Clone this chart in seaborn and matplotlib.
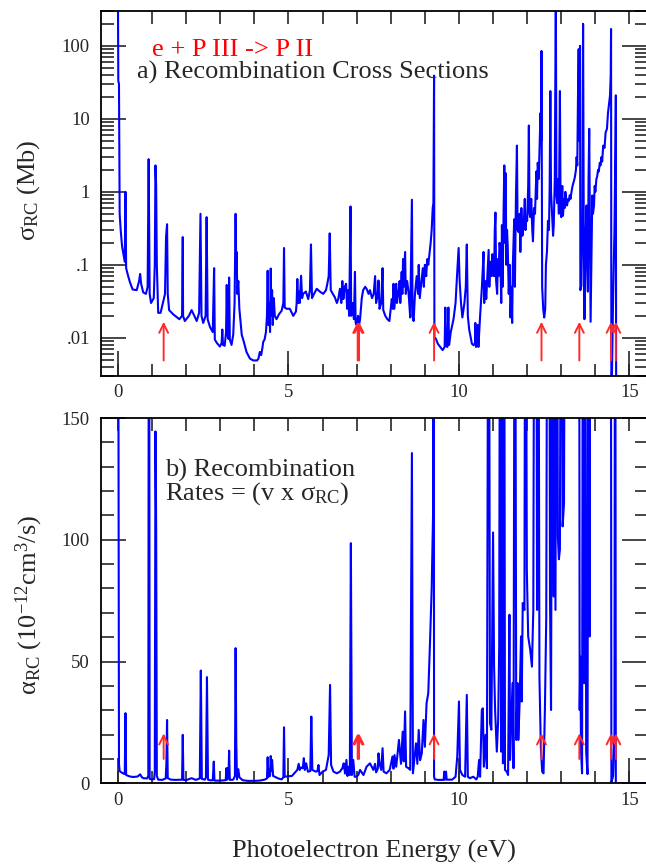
import matplotlib
matplotlib.use('Agg')
import matplotlib.pyplot as plt
import matplotlib.ticker as mticker
import seaborn as sns

# panel a) photoelectron energy (eV) and recombination cross section (Mb)
energia_a = [
    0.00, 0.01, 0.03, 0.05, 0.08, 0.12, 0.16, 0.20, 0.22, 0.24,
    0.30, 0.35, 0.43, 0.55, 0.62, 0.65, 0.68, 0.74, 0.82, 0.87,
    0.90, 0.93, 0.97, 1.05, 1.08, 1.10, 1.12, 1.14, 1.18, 1.25,
    1.38, 1.41, 1.44, 1.46, 1.50, 1.62, 1.80, 1.88, 1.90, 1.91,
    1.96, 2.08, 2.16, 2.24, 2.31, 2.38, 2.42, 2.45, 2.50, 2.57,
    2.60, 2.63, 2.70, 2.78, 2.82, 2.84, 2.90, 2.99, 3.04, 3.06,
    3.08, 3.13, 3.17, 3.19, 3.21, 3.24, 3.26, 3.28, 3.33, 3.38,
    3.42, 3.45, 3.47, 3.48, 3.50, 3.53, 3.56, 3.63, 3.68, 3.77,
    3.87, 3.97, 4.08, 4.12, 4.16, 4.20, 4.24, 4.26, 4.30, 4.34,
    4.37, 4.39, 4.41, 4.44, 4.46, 4.48, 4.50, 4.52, 4.54, 4.57,
    4.60, 4.65, 4.72, 4.80, 4.85, 4.87, 4.89, 4.95, 5.04, 5.14,
    5.22, 5.24, 5.26, 5.28, 5.30, 5.33, 5.37, 5.40, 5.43, 5.51,
    5.58, 5.63, 5.66, 5.69, 5.75, 5.83, 5.92, 6.02, 6.10, 6.14,
    6.18, 6.21, 6.24, 6.30, 6.36, 6.42, 6.46, 6.51, 6.55, 6.58,
    6.61, 6.65, 6.69, 6.72, 6.75, 6.78, 6.82, 6.84, 6.88, 6.92,
    6.95, 6.97, 7.00, 7.04, 7.07, 7.10, 7.15, 7.19, 7.25, 7.29,
    7.35, 7.39, 7.45, 7.50, 7.54, 7.57, 7.62, 7.64, 7.67, 7.72,
    7.76, 7.78, 7.84, 7.90, 7.96, 8.00, 8.03, 8.06, 8.08, 8.10,
    8.14, 8.16, 8.18, 8.22, 8.26, 8.28, 8.32, 8.34, 8.36, 8.38,
    8.42, 8.44, 8.48, 8.52, 8.57, 8.62, 8.64, 8.67, 8.71, 8.76,
    8.80, 8.82, 8.85, 8.90, 8.94, 8.97, 9.00, 9.04, 9.07, 9.10,
    9.14, 9.17, 9.20, 9.23, 9.25, 9.27, 9.28, 9.32, 9.38, 9.45,
    9.52, 9.58, 9.60, 9.62, 9.66, 9.69, 9.71, 9.76, 9.84, 9.90,
    9.94, 9.99, 10.02, 10.06, 10.10, 10.16, 10.20, 10.23, 10.26, 10.30,
    10.38, 10.43, 10.47, 10.48, 10.50, 10.55, 10.57, 10.62, 10.67, 10.70,
    10.72, 10.74, 10.77, 10.80, 10.84, 10.87, 10.89, 10.92, 10.96, 10.98,
    11.00, 11.03, 11.05, 11.07, 11.09, 11.12, 11.14, 11.16, 11.19, 11.21,
    11.24, 11.26, 11.28, 11.31, 11.33, 11.35, 11.37, 11.39, 11.41, 11.43,
    11.46, 11.49, 11.51, 11.54, 11.56, 11.58, 11.60, 11.62, 11.64, 11.67,
    11.70, 11.72, 11.75, 11.78, 11.80, 11.83, 11.86, 11.90, 11.93, 11.95,
    11.98, 12.00, 12.03, 12.05, 12.07, 12.09, 12.12, 12.15, 12.17, 12.20,
    12.23, 12.27, 12.29, 12.31, 12.34, 12.36, 12.39, 12.41, 12.42, 12.44,
    12.47, 12.50, 12.53, 12.55, 12.58, 12.61, 12.64, 12.66, 12.68, 12.70,
    12.73, 12.76, 12.78, 12.81, 12.84, 12.86, 12.88, 12.91, 12.93, 12.96,
    12.98, 13.00, 13.03, 13.05, 13.08, 13.10, 13.12, 13.15, 13.17, 13.20,
    13.22, 13.25, 13.27, 13.30, 13.33, 13.37, 13.40, 13.43, 13.45, 13.47,
    13.49, 13.51, 13.53, 13.55, 13.56, 13.59, 13.62, 13.64, 13.66, 13.68,
    13.71, 13.74, 13.76, 13.78, 13.80, 13.82, 13.84, 13.86, 13.89, 13.91,
    13.93, 13.96, 13.98, 14.00, 14.03, 14.05, 14.08, 14.10, 14.13, 14.15,
    14.18, 14.20, 14.23, 14.27, 14.30, 14.34, 14.37, 14.40, 14.43, 14.45,
    14.46, 14.47, 14.52, 14.56, 14.59, 14.60, 14.61, 15.50,
]
sigma_a = [
    500, 33, 30, 0.5, 0.3, 0.18, 0.14, 0.11, 1.0, 0.09,
    0.07, 0.058, 0.046, 0.045, 0.06, 0.075, 0.055, 0.042, 0.04, 0.05,
    2.8, 0.04, 0.03, 0.035, 0.1, 2.3, 1.2, 0.1, 0.022, 0.022,
    0.04, 0.24, 0.36, 0.04, 0.024, 0.021, 0.018, 0.02, 0.24, 0.02,
    0.017, 0.02, 0.024, 0.02, 0.017, 0.022, 0.5, 0.02, 0.016, 0.02,
    0.45, 0.018, 0.014, 0.012, 0.09, 0.0095, 0.0085, 0.0076, 0.0085, 0.013,
    0.008, 0.0078, 0.012, 0.053, 0.011, 0.0097, 0.067, 0.0095, 0.008, 0.011,
    0.03, 0.5, 0.08, 0.15, 0.04, 0.06, 0.025, 0.011, 0.0092, 0.0064,
    0.0052, 0.0049, 0.0049, 0.0052, 0.0064, 0.0058, 0.0075, 0.0088, 0.0095, 0.012,
    0.02, 0.083, 0.015, 0.03, 0.012, 0.089, 0.02, 0.045, 0.015, 0.035,
    0.02, 0.018, 0.021, 0.0235, 0.03, 0.17, 0.026, 0.025, 0.025, 0.02,
    0.023, 0.03, 0.064, 0.03, 0.043, 0.03, 0.071, 0.035, 0.04, 0.043,
    0.034, 0.045, 0.19, 0.035, 0.04, 0.047, 0.043, 0.04, 0.045, 0.055,
    0.07, 0.27, 0.045, 0.04, 0.036, 0.03, 0.034, 0.047, 0.03, 0.06,
    0.034, 0.05, 0.055, 0.025, 0.045, 0.02, 0.63, 0.02, 0.03, 0.018,
    0.08, 0.016, 0.015, 0.02, 0.015, 0.018, 0.035, 0.045, 0.05, 0.047,
    0.04, 0.045, 0.035, 0.04, 0.07, 0.03, 0.04, 0.061, 0.025, 0.03,
    0.09, 0.024, 0.02, 0.018, 0.017, 0.025, 0.034, 0.025, 0.055, 0.025,
    0.04, 0.055, 0.03, 0.04, 0.06, 0.03, 0.08, 0.04, 0.12, 0.05,
    0.15, 0.04, 0.06, 0.043, 0.019, 0.78, 0.02, 0.017, 0.04, 0.07,
    0.04, 0.1, 0.035, 0.06, 0.09, 0.05, 0.1, 0.07, 0.12, 0.1,
    0.15, 0.2, 0.3, 0.6, 0.7, 39, 0.01, 0.0098, 0.0083, 0.0075,
    0.0068, 0.0075, 0.026, 0.0078, 0.0075, 0.026, 0.008, 0.012, 0.018, 0.03,
    0.067, 0.17, 0.06, 0.03, 0.019, 0.03, 0.05, 0.19, 0.02, 0.013,
    0.0083, 0.0079, 0.0085, 0.016, 0.0075, 0.015, 0.0075, 0.02, 0.047, 0.09,
    0.15, 0.03, 0.06, 0.034, 0.08, 0.16, 0.05, 0.11, 0.07, 0.14,
    0.1, 0.07, 0.3, 0.52, 0.06, 0.04, 0.12, 0.07, 0.2, 0.16,
    0.03, 0.35, 0.05, 0.6, 2.3, 0.2, 1.8, 0.1, 0.3, 0.18,
    0.04, 0.1, 0.019, 0.05, 0.016, 0.1, 0.2, 0.42, 0.05, 0.8,
    4.3, 0.3, 0.28, 0.5, 0.15, 0.6, 0.25, 0.35, 0.8, 0.3,
    0.45, 0.4, 1.2, 8.1, 0.5, 0.45, 0.8, 0.3, 0.21, 0.6,
    0.5, 1.9, 0.8, 2.5, 1.5, 3.5, 12, 5, 85, 0.05,
    0.025, 0.019, 0.025, 0.1, 0.15, 0.4, 0.3, 1.2, 24, 1.0,
    0.5, 0.25, 0.35, 1.5, 500, 0.9, 0.7, 1.5, 0.5, 24,
    0.6, 0.45, 1.2, 0.47, 0.8, 0.6, 1.0, 0.7, 0.65, 0.8,
    0.75, 0.9, 0.8, 1.0, 1.2, 1.4, 1.6, 2.0, 3.0, 2.3,
    20, 90, 5, 100, 0.045, 0.052, 0.5, 200, 0.3, 0.018,
    0.2, 0.65, 0.1, 0.043, 1.5, 7.3, 0.3, 0.0166, 0.2, 0.89,
    0.5, 0.65, 1.2, 1.0, 1.5, 1.6, 2.0, 1.9, 2.5, 2.3,
    3.0, 2.6, 4.3, 4.0, 6.5, 7.3, 12, 16, 21, 40,
    170, 0.001, 0.034, 0.3, 5, 21, 0.001, 0.001,
]

# panel b) recombination rate (1e-12 cm^3/s)
energia_b = [
    0.00, 0.02, 0.03, 0.05, 0.10, 0.16, 0.20, 0.22, 0.24, 0.35,
    0.45, 0.58, 0.65, 0.70, 0.75, 0.85, 0.89, 0.91, 0.93, 1.00,
    1.06, 1.08, 1.10, 1.12, 1.14, 1.18, 1.30, 1.40, 1.42, 1.44,
    1.46, 1.55, 1.70, 1.88, 1.90, 1.92, 2.00, 2.16, 2.28, 2.40,
    2.43, 2.46, 2.55, 2.58, 2.61, 2.64, 2.72, 2.78, 2.81, 2.83,
    2.95, 3.10, 3.16, 3.18, 3.20, 3.22, 3.24, 3.26, 3.28, 3.38,
    3.43, 3.45, 3.47, 3.49, 3.53, 3.56, 3.65, 3.80, 4.00, 4.15,
    4.30, 4.37, 4.39, 4.41, 4.44, 4.46, 4.48, 4.50, 4.52, 4.55,
    4.60, 4.70, 4.80, 4.85, 4.87, 4.89, 5.00, 5.10, 5.17, 5.26,
    5.30, 5.33, 5.37, 5.42, 5.45, 5.48, 5.52, 5.57, 5.64, 5.67,
    5.70, 5.80, 5.85, 5.88, 5.91, 6.00, 6.10, 6.18, 6.22, 6.25,
    6.32, 6.42, 6.51, 6.58, 6.62, 6.66, 6.70, 6.73, 6.77, 6.80,
    6.83, 6.86, 6.90, 6.94, 7.00, 7.05, 7.10, 7.20, 7.29, 7.39,
    7.49, 7.54, 7.57, 7.62, 7.64, 7.67, 7.72, 7.76, 7.79, 7.87,
    7.97, 8.05, 8.08, 8.11, 8.16, 8.24, 8.30, 8.35, 8.38, 8.42,
    8.45, 8.52, 8.57, 8.62, 8.65, 8.70, 8.74, 8.78, 8.82, 8.86,
    8.91, 8.96, 9.00, 9.05, 9.10, 9.15, 9.20, 9.24, 9.26, 9.27,
    9.29, 9.40, 9.55, 9.57, 9.59, 9.62, 9.64, 9.80, 9.90, 9.95,
    10.00, 10.03, 10.10, 10.18, 10.23, 10.26, 10.32, 10.42, 10.51, 10.55,
    10.59, 10.62, 10.67, 10.70, 10.73, 10.78, 10.82, 10.87, 10.91, 10.95,
    11.00, 11.03, 11.06, 11.11, 11.15, 11.18, 11.21, 11.24, 11.26, 11.29,
    11.32, 11.35, 11.40, 11.44, 11.48, 11.50, 11.57, 11.60, 11.64, 11.68,
    11.72, 11.74, 11.78, 11.82, 11.84, 11.87, 11.92, 11.95, 11.99, 12.03,
    12.09, 12.14, 12.18, 12.22, 12.26, 12.29, 12.32, 12.36, 12.40, 12.44,
    12.48, 12.52, 12.56, 12.60, 12.64, 12.67, 12.70, 12.75, 12.78, 12.80,
    12.83, 12.87, 12.90, 12.93, 12.96, 13.00, 13.04, 13.08, 13.12, 13.30,
    13.52, 13.54, 13.56, 13.58, 13.61, 13.64, 13.67, 13.70, 13.73, 13.77,
    13.80, 13.83, 13.85, 14.10, 14.45, 14.47, 14.52, 14.56, 14.58, 14.60,
    14.62, 15.50,
]
taxa_b = [
    300, 102, 8, 5, 4.5, 4, 3.8, 28.8, 3.4, 2.8,
    2.6, 2.8, 3.7, 2.5, 2.1, 2.0, 3, 300, 1.8, 1.6,
    1.7, 5, 144.5, 106, 3, 1.5, 1.4, 2, 8, 26,
    2.1, 1.5, 1.4, 1.5, 19.9, 1.4, 1.3, 2.1, 1.4, 2,
    46.3, 1.8, 1.5, 2.5, 43.6, 1.5, 1.2, 1.3, 8.9, 1.1,
    1.1, 1.2, 1.3, 6.2, 1.5, 6.2, 2, 13.4, 1.4, 1.5,
    3, 55.5, 17, 1.6, 5.8, 2.5, 1.3, 1.0, 1.0, 1.1,
    1.5, 2, 10.7, 2.5, 5.5, 3, 11.2, 5, 9.6, 3,
    2.7, 2.0, 1.6, 2.5, 23, 2.7, 2.9, 3.0, 4.1, 5.5,
    8, 5.5, 6.5, 6.2, 10.3, 5.5, 8.2, 4.8, 5, 27.4,
    5.5, 4.8, 5, 7.5, 3.4, 4.8, 5.5, 11.6, 40.4, 7.5,
    4.8, 4.1, 4.8, 6.2, 8.2, 4, 9.6, 3, 6.8, 3.4,
    98.6, 3.4, 9.6, 2.7, 2.7, 3.5, 5.5, 3.4, 6.8, 8.2,
    5.5, 8, 4.5, 6, 12.3, 8.2, 5.5, 14.4, 4.8, 4.1,
    5.5, 11, 6, 11.6, 6.8, 17.8, 8, 21.2, 9, 29.5,
    6.8, 6.2, 5.5, 135.6, 4.1, 11, 16.4, 8, 21.9, 9.5,
    12.3, 26, 15, 32.9, 37, 57.5, 80, 110, 300, 2.7,
    1.6, 1.4, 1.4, 4.8, 1.5, 4.8, 1.5, 1.5, 2.7, 11,
    33.6, 5.5, 3.4, 2.7, 36.3, 2.7, 2.1, 2.7, 1.6, 2.7,
    9.6, 2.7, 30.1, 30.8, 6.8, 19.9, 6.2, 300, 24.7, 22,
    103, 47.9, 30, 13, 26, 56.2, 300, 13, 300, 8.2,
    300, 5.5, 4.8, 3.4, 69.2, 9.6, 41.1, 6.2, 300, 17.8,
    41.1, 17.8, 33.6, 60.3, 33.6, 74, 71.2, 300, 87.7, 60.3,
    54.8, 47.9, 71.2, 300, 300, 71.2, 300, 43.8, 15, 4.8,
    4.1, 30.1, 68.5, 300, 300, 75.3, 30.1, 300, 76.7, 300,
    71.2, 300, 101.4, 92, 96, 300, 105.5, 115, 300, 400,
    300, 30.1, 52, 13, 4.1, 300, 41.1, 300, 13, 3.8,
    300, 60.3, 300, 500, 300, 0.3, 3, 20, 300, 0.3,
    0.0, 0.0,
]

# thresholds marked with red arrows (eV)
limiares = [1.34, 7.03, 7.07, 9.27, 12.42, 13.53, 14.46, 14.60]

assert len(energia_a) == len(sigma_a)
assert len(energia_b) == len(taxa_b)

sns.set_style('ticks')
plt.rcParams['font.family'] = ['Liberation Serif', 'DejaVu Serif']
plt.rcParams['mathtext.fontset'] = 'custom'
plt.rcParams['mathtext.rm'] = 'Liberation Serif'
plt.rcParams['mathtext.it'] = 'Liberation Serif:italic'
plt.rcParams['mathtext.bf'] = 'Liberation Serif:bold'

azul = '#0000ff'
vermelho = '#ff2a2a'

fig = plt.figure(figsize=(6.46, 8.64), dpi=100)
ax1 = fig.add_axes([0.1562, 0.5648, 0.8446, 0.4225])
ax2 = fig.add_axes([0.1562, 0.0934, 0.8446, 0.4228])

ax1.set_yscale('log')
ax1.set_ylim(0.003, 300)
ax2.set_ylim(0, 150)

sns.lineplot(x=energia_a, y=sigma_a, ax=ax1, color=azul, linewidth=1.5,
             estimator=None, sort=False, legend=False)
sns.lineplot(x=energia_b, y=taxa_b, ax=ax2, color=azul, linewidth=1.5,
             estimator=None, sort=False, legend=False)

for ax in (ax1, ax2):
    ax.set_xlim(-0.5, 15.5)
    ax.xaxis.set_major_locator(mticker.MultipleLocator(5))
    ax.xaxis.set_minor_locator(mticker.MultipleLocator(1))
    ax.xaxis.remove_overlapping_locs = False
    ax.tick_params(which='major', direction='in', length=18, width=1.2,
                   labelsize=13.5, top=False, right=True, bottom=True, left=True)
    ax.tick_params(which='minor', direction='in', length=9, width=1.2,
                   top=True, right=True, bottom=True, left=True)
    ax.tick_params(axis='y', which='major', pad=8)
    ax.tick_params(axis='x', which='major', pad=6)
    for s in ax.spines.values():
        s.set_linewidth(1.3)
        s.set_color('black')
    ax.set_xlabel('')
    ax.set_ylabel('')

ax1.yaxis.set_major_locator(mticker.FixedLocator([0.01, 0.1, 1, 10, 100]))
ax1.yaxis.set_major_formatter(mticker.FixedFormatter(['.01', '.1', '1', '10', '100']))
ax1.yaxis.set_minor_locator(mticker.LogLocator(base=10, subs=range(2, 10), numticks=20))
ax1.yaxis.set_minor_formatter(mticker.NullFormatter())

ax2.yaxis.set_major_locator(mticker.MultipleLocator(50))
ax2.yaxis.set_minor_locator(mticker.MultipleLocator(10))

# arrows
seta = dict(arrowstyle='->', color=vermelho, lw=1.4, shrinkA=0, shrinkB=0,
            mutation_scale=16)
for e in limiares:
    ax1.annotate('', xy=(e, 0.0166), xytext=(e, 0.0049), arrowprops=seta)
    ax2.annotate('', xy=(e, 20.5), xytext=(e, 10), arrowprops=seta)

# texts
fig.text(152 / 646, 1 - 56 / 864, 'e + P III -> P II', color='red',
         fontsize=19, va='baseline', ha='left')
fig.text(137 / 646, 1 - 79 / 864, 'a) Recombination Cross Sections',
         fontsize=19, va='baseline', ha='left')
fig.text(165 / 646, 1 - 477 / 864, 'b) Recombination',
         fontsize=19, va='baseline', ha='left')
fig.text(165 / 646, 1 - 500 / 864, r'Rates = (v x $\mathrm{\sigma_{RC}}$)',
         fontsize=19, va='baseline', ha='left')

fig.text(29 / 646, 1 - 190 / 864, r'$\mathrm{\sigma_{RC}}$ (Mb)', rotation=90,
         fontsize=19, ha='center', va='center')
fig.text(29 / 646, 1 - 605 / 864, r'$\mathrm{\alpha_{RC}}$ (10$^{-12}$cm$^{3}$/s)',
         rotation=90, fontsize=19, ha='center', va='center')
fig.text(374 / 646, 1 - 858 / 864, 'Photoelectron Energy (eV)',
         fontsize=19, ha='center', va='baseline')

fig.savefig('out.png', dpi=100)
